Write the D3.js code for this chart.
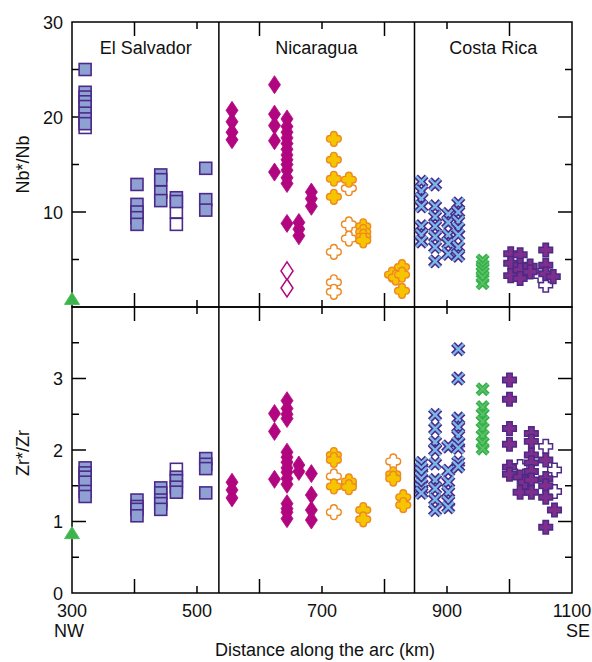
<!DOCTYPE html>
<html>
<head>
<meta charset="utf-8">
<script src="https://cdn.jsdelivr.net/npm/d3@7"></script>
<style>
  html, body { margin: 0; padding: 0; background: #fff; }
  svg text { font-family: "Liberation Sans", Arial, Helvetica, sans-serif; fill: #111; }
</style>
</head>
<body>
<svg id="chart" width="592" height="662"></svg>
<script>
// ---- Data: [distance along arc (km), ratio] ----
const regions = ["El Salvador", "Nicaragua", "Costa Rica"];
const regionCenters = [418, 691, 974];      // km, label positions
const regionBorders = [535, 848];           // km, vertical dividers
const xTicks = [300, 400, 500, 600, 700, 800, 900, 1000, 1100];
const xLabels = [300, 500, 700, 900, 1100];
const nbTicks = [5, 10, 15, 20, 25];
const nbLabels = [10, 20, 30];
const zrTicks = [0.5, 1, 1.5, 2, 2.5, 3, 3.5];
const zrLabels = [0, 1, 2, 3];

// Nb*/Nb
const salvadorNb = [[321,25.0],[321,22.6],[321,22.1],[321,21.6],[321,21.1],[321,20.4],[321,19.8],[321,19.3],
  [404,12.9],[404,10.8],[404,10.0],[404,9.4],[404,8.7],
  [442,13.9],[442,13.4],[442,12.1],[442,11.2],
  [467,11.5],[467,11.1],
  [514,14.6],[514,11.3],[514,10.2]];
const salvadorNbOpen = [[321,18.9],[467,10.0],[467,8.7]];
const nicaraguaNbDiamond = [[556,20.7],[556,19.5],[556,18.4],[556,17.6],
  [624,23.4],[624,20.3],[624,19.1],[624,17.5],[624,14.2],
  [644,19.8],[644,19.0],[644,18.4],[644,17.8],[644,17.2],[644,16.6],[644,16.0],[644,15.5],[644,15.0],[644,14.4],[644,13.6],[644,13.0],[644,8.8],
  [663,8.9],[663,8.2],[663,7.5],
  [683,12.1],[683,11.4],[683,10.6]];
const nicaraguaNbDiamondOpen = [[644,3.8],[644,2.0]];
const nicaraguaNbCross = [[719,17.7],[719,15.5],[719,13.5],[719,11.6],
  [743,13.4],
  [766,8.5],[766,7.9],[766,7.4],[766,7.0],
  [812,3.4],[818,3.1],[828,4.2],[828,3.4],[828,1.7]];
const nicaraguaNbCrossOpen = [[719,5.8],[719,2.6],[719,1.6],[743,12.5],[743,8.7],[743,7.2]];
const costaRicaNbX = [[859,13.2],[859,12.2],[859,11.4],[859,10.6],[859,8.5],[859,7.6],[859,6.9],
  [881,12.9],[881,10.6],[881,9.5],[881,8.5],[881,7.4],[881,6.3],[881,4.8],
  [902,9.8],[902,8.9],[902,7.6],[902,6.7],[902,5.6],
  [918,10.9],[918,10.0],[918,9.0],[918,8.3],[918,7.6],[918,6.3],[918,5.4]];
const costaRicaNbGreen = [[957,4.9],[957,4.4],[957,4.0],[957,3.6],[957,3.1],[957,2.5]];
const costaRicaNbPlus = [[1002,5.6],[1002,4.6],[1002,3.3],[1017,5.5],[1017,4.4],[1017,3.9],[1017,3.0],
  [1033,4.3],[1033,3.7],[1058,6.0],[1058,4.4],[1058,3.5],[1070,3.2]];
const costaRicaNbPlusOpen = [[1058,2.9],[1058,2.3],[1050,3.3]];
const referenceNb = [[300,0.8]];

// Zr*/Zr
const salvadorZr = [[321,1.75],[321,1.68],[321,1.62],[321,1.55],[321,1.42],[321,1.35],
  [404,1.30],[404,1.21],[404,1.17],[404,1.08],
  [442,1.47],[442,1.40],[442,1.30],[442,1.25],[442,1.17],
  [467,1.62],[467,1.57],[467,1.48],[467,1.41],
  [514,1.88],[514,1.80],[514,1.74],[514,1.40]];
const salvadorZrOpen = [[467,1.73]];
const nicaraguaZrDiamond = [[556,1.55],[556,1.44],[556,1.33],
  [624,2.51],[624,2.26],[624,1.59],
  [644,2.69],[644,2.58],[644,2.50],[644,2.44],[644,1.97],[644,1.90],[644,1.83],[644,1.75],[644,1.69],[644,1.60],[644,1.52],[644,1.25],[644,1.18],[644,1.13],[644,1.04],
  [663,1.79],[663,1.70],
  [683,1.67],[683,1.37],[683,1.16],[683,1.02]];
const nicaraguaZrCross = [[719,1.93],[719,1.86],[719,1.49],[743,1.56],[743,1.48],[766,1.16],[766,1.03],
  [814,1.66],[814,1.60],[830,1.34],[830,1.23]];
const nicaraguaZrCrossOpen = [[719,1.63],[719,1.13],[814,1.84],[743,1.52]];
const costaRicaZrX = [[859,1.82],[859,1.75],[859,1.68],[859,1.60],[859,1.52],[859,1.45],[859,1.40],
  [881,2.49],[881,2.30],[881,2.11],[881,2.00],[881,1.81],[881,1.58],[881,1.46],[881,1.31],[881,1.16],
  [902,2.05],[902,1.71],[902,1.55],[902,1.41],[902,1.28],[902,1.20],
  [918,3.41],[918,3.00],[918,2.44],[918,2.32],[918,2.20],[918,2.10],[918,2.03],[918,1.83],[918,1.77]];
const costaRicaZrGreen = [[957,2.85],[957,2.60],[957,2.50],[957,2.40],[957,2.30],[957,2.20],[957,2.10],[957,2.02]];
const costaRicaZrPlus = [[1000,2.98],[1000,2.71],[1000,2.30],[1000,2.08],[1000,1.76],[1000,1.66],
  [1017,1.62],[1017,1.41],[1025,1.55],
  [1035,2.23],[1035,2.12],[1035,1.93],[1035,1.82],[1035,1.70],[1035,1.58],[1035,1.41],
  [1058,1.86],[1058,1.60],[1058,1.50],[1058,1.34],[1072,1.16],[1058,0.92]];
const costaRicaZrPlusOpen = [[1058,2.05],[1072,1.72],[1072,1.42],[1017,1.77]];
const referenceZr = [[300,0.83]];

// ---- Layout ----
const svg = d3.select("#chart");
const x = d3.scaleLinear().domain([300, 1100]).range([72, 572]);
const yNb = d3.scaleLinear().domain([0, 30]).range([307, 22]);
const yZr = d3.scaleLinear().domain([0, 4]).range([593, 307]);
const LONG = 14, SHORT = 7;

// ---- Marker shapes ----
function roundPlus(w, L) {
  return `M${-w},${-w}L${-w},${-L + w}A${w},${w} 0 0 1 ${w},${-L + w}L${w},${-w}` +
    `L${L - w},${-w}A${w},${w} 0 0 1 ${L - w},${w}L${w},${w}` +
    `L${w},${L - w}A${w},${w} 0 0 1 ${-w},${L - w}L${-w},${w}` +
    `L${-L + w},${w}A${w},${w} 0 0 1 ${-L + w},${-w}Z`;
}
function squarePlus(w, L) {
  return `M${-w},${-L}H${w}V${-w}H${L}V${w}H${w}V${L}H${-w}V${w}H${-L}V${-w}H${-w}Z`;
}
const X_PATH = "M-5.3,-5.3L5.3,5.3M-5.3,5.3L5.3,-5.3";
const shapes = {
  square: (g, open) => g.append("rect").attr("x", -6).attr("y", -6).attr("width", 12).attr("height", 12)
    .attr("fill", open ? "#fff" : "#8fa1d3").attr("stroke", "#4b2a8a").attr("stroke-width", 1.6),
  diamond: (g, open) => g.append("path").attr("d", "M0,-9L6,0L0,9L-6,0Z")
    .attr("fill", open ? "#fff" : "#b1067f").attr("stroke", "#b1067f").attr("stroke-width", open ? 1.5 : 0.8),
  cross: (g, open) => g.append("path").attr("d", roundPlus(3.3, 7.4))
    .attr("fill", open ? "#fff" : "#f7c500").attr("stroke", "#ee8a23").attr("stroke-width", 1.4),
  xblue: (g) => {
    g.append("path").attr("d", X_PATH).attr("stroke", "#4b2a8a").attr("stroke-width", 5.4).attr("fill", "none");
    g.append("path").attr("d", X_PATH).attr("stroke", "#79b9ea").attr("stroke-width", 2.3).attr("fill", "none");
  },
  xgreen: (g) => {
    g.append("path").attr("d", X_PATH).attr("stroke", "#37b04a").attr("stroke-width", 5).attr("fill", "none");
    g.append("path").attr("d", X_PATH).attr("stroke", "#5cc36a").attr("stroke-width", 1.6).attr("fill", "none");
  },
  plus: (g, open) => g.append("path").attr("d", squarePlus(2.7, 6.8))
    .attr("fill", open ? "#fff" : "#7e2f8e").attr("stroke", "#4d2a86").attr("stroke-width", 1.5),
  triangle: (g) => g.append("path").attr("d", "M0,-7L7.5,5L-7.5,5Z")
    .attr("fill", "#3cb44b").attr("stroke", "#4fbf5c").attr("stroke-width", 1)
};

function drawSeries(data, yScale, shape, open) {
  const layer = svg.append("g");
  layer.selectAll("g").data(data).join("g")
    .attr("transform", d => `translate(${x(d[0])},${yScale(d[1])})`)
    .each(function () { shapes[shape](d3.select(this), open); });
}

// ---- Frames, dividers and ticks ----
const axis = svg.append("g").attr("stroke", "#000").attr("stroke-width", 1.5).attr("fill", "none");
axis.append("rect").attr("x", x(300)).attr("y", yNb(30)).attr("width", x(1100) - x(300)).attr("height", yNb(0) - yNb(30));
axis.append("rect").attr("x", x(300)).attr("y", yZr(4)).attr("width", x(1100) - x(300)).attr("height", yZr(0) - yZr(4));
regionBorders.forEach(k => axis.append("line").attr("x1", x(k)).attr("x2", x(k)).attr("y1", yNb(30)).attr("y2", yZr(0)));

// x ticks point inward from the top and bottom edge of each panel
const xInner = xTicks.filter(t => t > 300 && t < 1100);
[[yNb(30), 1], [yNb(0), -1], [yZr(4), 1], [yZr(0), -1]].forEach(([ey, dir]) => {
  xInner.forEach(t => {
    const len = xLabels.includes(t) ? SHORT : LONG;
    axis.append("line").attr("x1", x(t)).attr("x2", x(t)).attr("y1", ey).attr("y2", ey + dir * len);
  });
});
function yTickLines(ticks, labels, ys) {
  ticks.forEach(t => {
    const len = labels.includes(t) ? LONG : SHORT;
    axis.append("line").attr("x1", x(300)).attr("x2", x(300) + len).attr("y1", ys(t)).attr("y2", ys(t));
    axis.append("line").attr("x1", x(1100)).attr("x2", x(1100) - len).attr("y1", ys(t)).attr("y2", ys(t));
  });
}
yTickLines(nbTicks, nbLabels, yNb);
yTickLines(zrTicks, zrLabels, yZr);

// ---- Text ----
const txt = svg.append("g").attr("font-size", 18);
nbLabels.forEach(t => txt.append("text").attr("x", 63).attr("y", yNb(t) + 6.5).attr("text-anchor", "end").text(t));
zrLabels.forEach(t => txt.append("text").attr("x", 63).attr("y", yZr(t) + 6.5).attr("text-anchor", "end").text(t));
xLabels.forEach(t => txt.append("text").attr("x", x(t)).attr("y", 617).attr("text-anchor", "middle").text(t));
txt.append("text").attr("x", 54).attr("y", 637).text("NW");
txt.append("text").attr("x", 590).attr("y", 637).attr("text-anchor", "end").text("SE");
txt.append("text").attr("x", 325).attr("y", 656).attr("text-anchor", "middle").text("Distance along the arc (km)");
txt.append("text").attr("transform", `translate(29,${(yNb(0) + yNb(30)) / 2}) rotate(-90)`).attr("text-anchor", "middle").text("Nb*/Nb");
txt.append("text").attr("transform", `translate(29,${(yZr(0) + yZr(4)) / 2 + 3}) rotate(-90)`).attr("text-anchor", "middle").text("Zr*/Zr");
regions.forEach((r, i) => txt.append("text").attr("x", x(regionCenters[i])).attr("y", 54).attr("text-anchor", "middle").text(r));

// ---- Markers (open symbols first, filled on top) ----
drawSeries(salvadorNbOpen, yNb, "square", true);
drawSeries(salvadorNb, yNb, "square", false);
drawSeries(nicaraguaNbDiamondOpen, yNb, "diamond", true);
drawSeries(nicaraguaNbDiamond, yNb, "diamond", false);
drawSeries(nicaraguaNbCrossOpen, yNb, "cross", true);
drawSeries(nicaraguaNbCross, yNb, "cross", false);
drawSeries(costaRicaNbX, yNb, "xblue");
drawSeries(costaRicaNbGreen, yNb, "xgreen");
drawSeries(costaRicaNbPlusOpen, yNb, "plus", true);
drawSeries(costaRicaNbPlus, yNb, "plus", false);
drawSeries(referenceNb, yNb, "triangle");

drawSeries(salvadorZrOpen, yZr, "square", true);
drawSeries(salvadorZr, yZr, "square", false);
drawSeries(nicaraguaZrDiamond, yZr, "diamond", false);
drawSeries(nicaraguaZrCrossOpen, yZr, "cross", true);
drawSeries(nicaraguaZrCross, yZr, "cross", false);
drawSeries(costaRicaZrX, yZr, "xblue");
drawSeries(costaRicaZrGreen, yZr, "xgreen");
drawSeries(costaRicaZrPlusOpen, yZr, "plus", true);
drawSeries(costaRicaZrPlus, yZr, "plus", false);
drawSeries(referenceZr, yZr, "triangle");
</script>
</body>
</html>
